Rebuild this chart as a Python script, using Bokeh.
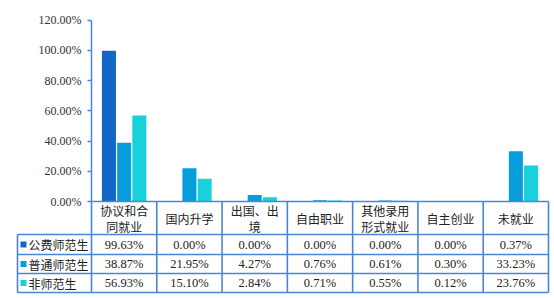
from bokeh.plotting import figure
from bokeh.models import Range1d, LinearAxis, FixedTicker, PrintfTickFormatter, ColumnDataSource
from bokeh.core.properties import value
from bokeh.embed import file_html
from bokeh.resources import INLINE

# ---- data ----
categories = ["协议和合\n同就业", "国内升学", "出国、出\n境", "自由职业", "其他录用\n形式就业", "自主创业", "未就业"]
series_names = ["公费师范生", "普通师范生", "非师范生"]
gongfei = [99.63, 0.00, 0.00, 0.00, 0.00, 0.00, 0.37]
putong = [38.87, 21.95, 4.27, 0.76, 0.61, 0.30, 33.23]
feishi = [56.93, 15.10, 2.84, 0.71, 0.55, 0.12, 23.76]
y_ticks = [0, 20, 40, 60, 80, 100, 120]

# ---- style / layout ----
colors = ["#1267C6", "#079DDB", "#18D1DA"]
line_blue = "#4A86D8"
text_color = "#222222"
cjk_font = value("Noto Sans CJK SC")
num_font = value("Liberation Serif")

W_PX, H_PX = 554, 298
col_px = 457 / 7.0          # pixels per category column
x0_px = 91                   # left edge of first category column
y0_px = 201                  # pixel row of 0%
unit_px = 1.5125             # pixels per percent

x_range = Range1d(-x0_px / col_px, (W_PX - x0_px) / col_px)
y_range = Range1d(-(H_PX - y0_px) / unit_px, y0_px / unit_px)

# table geometry (data units)
hdr_bottom = -33 / unit_px
row_bounds = [hdr_bottom, -53 / unit_px, -72 / unit_px, -91 / unit_px]
legend_left = (17 - x0_px) / col_px
ncat = len(categories)
line_gap = 8 / unit_px

p = figure(width=W_PX, height=H_PX, x_range=x_range, y_range=y_range,
           min_border=0, x_axis_type=None, y_axis_type=None,
           toolbar_location=None, output_backend="svg",
           outline_line_color=None, background_fill_color="white",
           border_fill_color="white")

# ---- bars ----
offsets = [-0.233, 0.0, 0.233]
for vals, off, col in zip([gongfei, putong, feishi], offsets, colors):
    xs = [i + 0.5 + off for i in range(ncat)]
    src = ColumnDataSource(dict(x=xs, top=vals))
    p.vbar(x="x", top="top", bottom=0, width=0.215, source=src,
           fill_color=col, line_color=None)

# ---- y axis ----
ax = LinearAxis(fixed_location=0, bounds=(0, 120),
                ticker=FixedTicker(ticks=y_ticks),
                formatter=PrintfTickFormatter(format="%.2f%%"))
ax.axis_line_color = line_blue
ax.axis_line_width = 1.5
ax.major_tick_line_color = line_blue
ax.major_tick_line_width = 1.5
ax.major_tick_out = 4
ax.major_tick_in = 0
ax.minor_tick_line_color = None
ax.major_label_text_font = "Liberation Serif"
ax.major_label_text_font_size = "12px"
ax.major_label_text_color = "#333333"
ax.major_label_standoff = 6
p.add_layout(ax, "left")

# ---- table grid ----
sx0, sy0, sx1, sy1 = [], [], [], []
sx0.append(0); sy0.append(0); sx1.append(ncat); sy1.append(0)
for yb in row_bounds:
    sx0.append(legend_left); sy0.append(yb); sx1.append(ncat); sy1.append(yb)
for i in range(ncat + 1):
    sx0.append(i); sy0.append(0); sx1.append(i); sy1.append(row_bounds[-1])
sx0.append(legend_left); sy0.append(row_bounds[0]); sx1.append(legend_left); sy1.append(row_bounds[-1])
p.segment(x0=sx0, y0=sy0, x1=sx1, y1=sy1, line_color=line_blue, line_width=1.6)

# header texts (one text per line)
hx, hy, ht = [], [], []
hc = hdr_bottom / 2
for i, c in enumerate(categories):
    lines = c.split("\n")
    if len(lines) == 1:
        hx.append(i + 0.5); hy.append(hc); ht.append(lines[0])
    else:
        hx += [i + 0.5, i + 0.5]
        hy += [hc + line_gap, hc - line_gap]
        ht += lines
p.text(x=hx, y=hy, text=ht,
       text_font=cjk_font, text_font_size="12px", text_color=text_color,
       text_align="center", text_baseline="middle")

# rows
row_centers = [(row_bounds[k] + row_bounds[k + 1]) / 2 for k in range(3)]
for vals, yc in zip([gongfei, putong, feishi], row_centers):
    p.text(x=[i + 0.5 for i in range(ncat)], y=[yc] * ncat,
           text=[f"{v:.2f}%" for v in vals],
           text_font=num_font, text_font_size="12.5px", text_color=text_color,
           text_align="center", text_baseline="middle")

# legend column
sq_x = (23 - x0_px) / col_px
tx_x = (28 - x0_px) / col_px
p.scatter(x=[sq_x] * 3, y=row_centers, marker="square", size=6,
          fill_color=colors, line_color=None)
p.text(x=[tx_x] * 3, y=row_centers, text=series_names,
       text_font=cjk_font, text_font_size="12px", text_color=text_color,
       text_align="left", text_baseline="middle")

open("out.html", "w").write(file_html(p, INLINE))
